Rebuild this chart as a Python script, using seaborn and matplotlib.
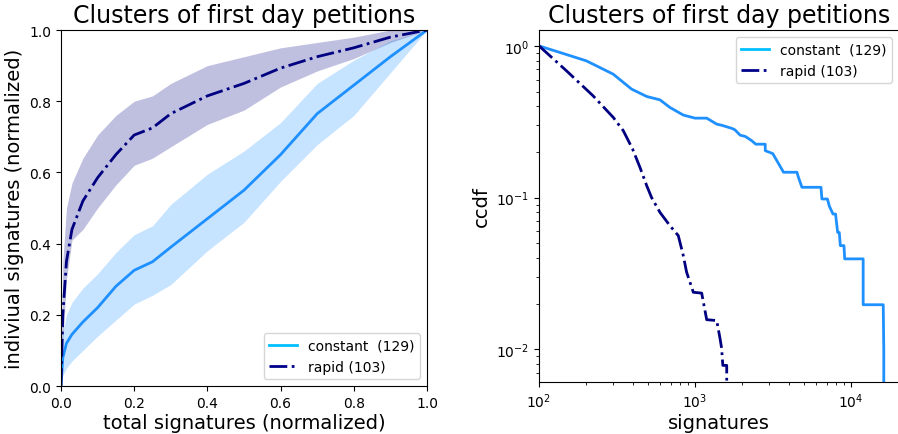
import numpy as np
import pandas as pd
import matplotlib
matplotlib.use("Agg")
import matplotlib.pyplot as plt
import seaborn as sns
from matplotlib.lines import Line2D

# plain matplotlib look (classic black ticks and spines)
sns.reset_orig()
plt.rcParams["font.family"] = ["DejaVu Sans"]

TITLE = "Clusters of first day petitions"

# --- left panel: normalized signature curves (mean and band) ---
x_norm = [0.0, 0.005, 0.015, 0.03, 0.06, 0.1, 0.15, 0.2, 0.25, 0.3,
          0.4, 0.5, 0.6, 0.7, 0.8, 0.9, 1.0]

rapid_mean = [0.0, 0.2, 0.35, 0.44, 0.52, 0.585, 0.65, 0.705, 0.725, 0.765,
              0.815, 0.85, 0.893, 0.925, 0.95, 0.98, 1.0]
rapid_hi = [0.0, 0.35, 0.5, 0.57, 0.64, 0.705, 0.76, 0.8, 0.815, 0.85,
            0.9, 0.925, 0.95, 0.965, 0.98, 1.0, 1.0]
rapid_lo = [0.0, 0.12, 0.3, 0.41, 0.44, 0.5, 0.565, 0.62, 0.64, 0.672,
            0.735, 0.775, 0.84, 0.885, 0.92, 0.965, 1.0]

const_mean = [0.0, 0.08, 0.12, 0.145, 0.18, 0.22, 0.28, 0.325, 0.349, 0.39,
              0.47, 0.55, 0.65, 0.765, 0.845, 0.925, 1.0]
const_hi = [0.0, 0.15, 0.2, 0.235, 0.275, 0.315, 0.375, 0.425, 0.45, 0.51,
            0.595, 0.66, 0.74, 0.85, 0.915, 0.97, 1.0]
const_lo = [0.0, 0.03, 0.05, 0.07, 0.1, 0.14, 0.185, 0.23, 0.255, 0.285,
            0.38, 0.46, 0.575, 0.678, 0.76, 0.88, 1.0]

# --- right panel: ccdf of signatures ---
const_sig = [100, 201, 299, 392, 490, 596, 690, 841, 1000, 1188, 1377, 1480,
             1722, 1800, 1945, 2100, 2311, 2450, 2818, 2818, 3150, 3690, 4498,
             4600, 4841, 6413, 6500, 7050, 7250, 7656, 7950, 8204, 8400, 8530,
             9000, 9100, 11950, 11950, 16070, 16200, 16200]
const_ccdf = [1.0, 0.797, 0.651, 0.519, 0.464, 0.441, 0.393, 0.35, 0.334, 0.334,
              0.305, 0.3, 0.286, 0.28, 0.258, 0.253, 0.237, 0.225, 0.225, 0.204,
              0.195, 0.147, 0.147, 0.136, 0.117, 0.117, 0.098, 0.098, 0.088,
              0.078, 0.078, 0.059, 0.059, 0.0483, 0.0483, 0.0395, 0.0395,
              0.0197, 0.0197, 0.00985, 0.004]

rapid_sig = [100, 150, 222, 299, 347, 398, 444, 490, 527, 596, 690, 781, 841,
             883, 975, 1103, 1188, 1377, 1446, 1480, 1507, 1596, 1596]
rapid_ccdf = [1.0, 0.685, 0.469, 0.338, 0.276, 0.209, 0.158, 0.12, 0.1, 0.08,
              0.0654, 0.0562, 0.0415, 0.0323, 0.0238, 0.0235, 0.0157, 0.0155,
              0.0118, 0.0102, 0.00785, 0.00785, 0.004]

labels = ["constant  (129)", "rapid (103)"]
c_const, c_rapid = "dodgerblue", "navy"

fig = plt.figure(figsize=(8.98, 4.35), dpi=100)
ax1 = fig.add_axes([0.0679, 0.1103, 0.4076, 0.8184])
ax2 = fig.add_axes([0.6002, 0.1195, 0.401, 0.809])

# left panel
ax1.fill_between(x_norm, rapid_lo, rapid_hi, color=c_rapid, alpha=0.25, lw=0)
ax1.fill_between(x_norm, const_lo, const_hi, color=c_const, alpha=0.25, lw=0)
left_df = pd.DataFrame({"x": x_norm * 2,
                        "y": const_mean + rapid_mean,
                        "kind": ["constant"] * len(x_norm) + ["rapid"] * len(x_norm)})
sns.lineplot(data=left_df[left_df.kind == "constant"], x="x", y="y", ax=ax1,
             color=c_const, lw=2, estimator=None, sort=False)
sns.lineplot(data=left_df[left_df.kind == "rapid"], x="x", y="y", ax=ax1,
             color=c_rapid, lw=2, ls="-.", estimator=None, sort=False)
ax1.set_xlim(0, 1)
ax1.set_ylim(0, 1)
ax1.set_xticks(np.arange(0, 1.01, 0.2))
ax1.set_yticks(np.arange(0, 1.01, 0.2))
ax1.set_xlabel("total signatures (normalized)", fontsize=14, labelpad=2)
ax1.set_ylabel("indiviual signatures (normalized)", fontsize=14)
ax1.set_title(TITLE, fontsize=17)

handles = [Line2D([], [], color="deepskyblue", lw=2),
           Line2D([], [], color="darkblue", lw=2, ls="-.")]
ax1.legend(handles, labels, loc="lower right", fontsize=10)

# right panel
sns.lineplot(x=const_sig, y=const_ccdf, ax=ax2, color=c_const, lw=2,
             estimator=None, sort=False)
sns.lineplot(x=rapid_sig, y=rapid_ccdf, ax=ax2, color=c_rapid, lw=2, ls="-.",
             estimator=None, sort=False)
ax2.set_xscale("log")
ax2.set_yscale("log")
ax2.set_xlim(100, 2.03e4)
ax2.set_ylim(0.0061, 1.27)
ax2.set_xlabel("signatures", fontsize=14, labelpad=2)
ax2.set_ylabel("ccdf", fontsize=14)
ax2.set_title(TITLE, fontsize=17)
ax2.legend(handles, labels, loc="upper right", fontsize=10)

for ax in (ax1, ax2):
    ax.tick_params(labelsize=10)

fig.savefig("out.png", dpi=100)
